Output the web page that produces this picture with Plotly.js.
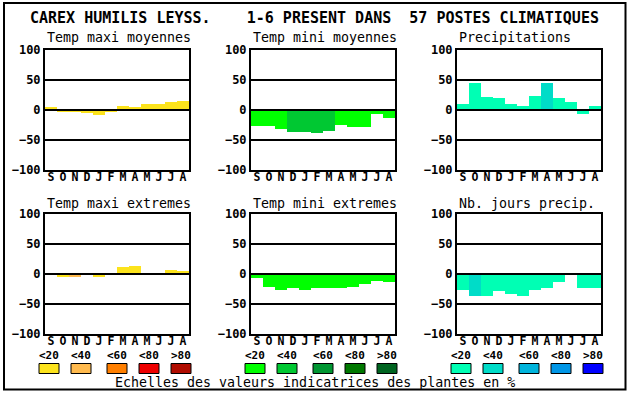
<!DOCTYPE html>
<html>
<head>
<meta charset="utf-8">
<script src="https://cdn.plot.ly/plotly-3.0.1.min.js"></script>
<style>html,body{margin:0;padding:0;background:#fff;}#chart{width:630px;height:394px;}</style>
</head>
<body>
<div id="chart"></div>
<script>
// ---- data ----
const months = ['S','O','N','D','J','F','M','A','M','J','J','A'];
const yTicks = [-100, -50, 0, 50, 100];
const classLabels = ['<20','<40','<60','<80','>80'];

const panelTitles = ['Temp maxi moyennes','Temp mini moyennes','Precipitations',
                     'Temp maxi extremes','Temp mini extremes','Nb. jours precip.'];

const tmaxMoy      = [5, -4, -4, -5, -8, -3, 7, 5, 10, 10, 13, 15];
const tmaxMoyClass = [0, 0, 0, 0, 0, 0, 0, 0, 0, 0, 0, 0];

const tminMoy      = [-26, -26, -32, -37, -37, -38, -35, -25, -28, -28, -7, -13];
const tminMoyClass = [0, 0, 0, 1, 1, 1, 1, 0, 0, 0, 0, 0];

const precip       = [10, 45, 22, 20, 10, 7, 23, 45, 20, 13, -7, 7];
const precipClass  = [0, 0, 0, 0, 0, 0, 0, 1, 0, 0, 0, 0];

const tmaxExt      = [2, -5, -5, -2, -5, 0, 12, 14, -2, 2, 7, 5];
const tmaxExtClass = [0, 0, 1, 0, 0, 0, 0, 0, 0, 0, 0, 0];

const tminExt      = [-6, -21, -26, -23, -26, -24, -24, -23, -21, -16, -11, -14];
const tminExtClass = [0, 0, 0, 0, 0, 0, 0, 0, 0, 0, 0, 0];

const nbJours      = [-26, -36, -36, -28, -33, -36, -26, -24, -14, 2, -23, -24];
const nbJoursClass = [0, 1, 0, 0, 0, 0, 0, 0, 0, 0, 0, 0];

const mainTitle = 'CAREX HUMILIS LEYSS.    1-6 PRESENT DANS  57 POSTES CLIMATIQUES';
const footer = 'Echelles des valeurs indicatrices des plantes en %';

// ---- styles ----
const yellowPal = ['#FCE31C','#FFBA4E','#FF7F00','#EE0000','#B00C00'];
const greenPal  = ['#00FF00','#00C832','#009632','#007800','#006420'];
const bluePal   = ['#00FFB4','#00DCC8','#00B4DC','#0096E6','#0000FF'];

const W = 630, H = 394;
const plotLefts = [45, 251, 457];
const rowTops = [50, 214];
const PW = 144, PH = 120;
const px = v => v / W;
const py = v => 1 - v / H;
const mono = '"DejaVu Sans Mono", "Liberation Mono", monospace';

const panels = [
  {v: tmaxMoy, c: tmaxMoyClass, pal: yellowPal},
  {v: tminMoy, c: tminMoyClass, pal: greenPal},
  {v: precip,  c: precipClass,  pal: bluePal},
  {v: tmaxExt, c: tmaxExtClass, pal: yellowPal},
  {v: tminExt, c: tminExtClass, pal: greenPal},
  {v: nbJours, c: nbJoursClass, pal: bluePal}
];

const traces = [];
const layout = {
  width: W, height: H, autosize: false,
  margin: {l: 0, r: 0, t: 0, b: 0, pad: 0},
  paper_bgcolor: '#fff', plot_bgcolor: '#fff',
  showlegend: false, bargap: 0,
  font: {family: mono, color: '#000'},
  annotations: [], shapes: []
};

panels.forEach((p, i) => {
  const col = i % 3, row = Math.floor(i / 3);
  const n = i + 1;
  const xa = n === 1 ? 'x' : 'x' + n;
  const ya = n === 1 ? 'y' : 'y' + n;
  traces.push({
    type: 'bar', x: months.map((m, k) => k), y: p.v,
    xaxis: xa, yaxis: ya,
    marker: {color: p.c.map(k => p.pal[k]), line: {width: 0}},
    hoverinfo: 'skip'
  });
  const l = plotLefts[col], t = rowTops[row];
  layout['xaxis' + (n === 1 ? '' : n)] = {
    domain: [px(l), px(l + PW)], anchor: ya, range: [-0.5, 11.5],
    tickmode: 'array', tickvals: months.map((m, k) => k), ticktext: months,
    showgrid: false, zeroline: false, showline: true, mirror: true,
    linecolor: '#000', linewidth: 2, ticks: '', fixedrange: true,
    ticklabelstandoff: -5,
    tickfont: {family: mono, size: 11.5, color: '#000', weight: 'bold'}
  };
  layout['yaxis' + (n === 1 ? '' : n)] = {
    domain: [py(t + PH), py(t)], anchor: xa, range: [-100, 100],
    tickmode: 'array', tickvals: yTicks,
    showgrid: true, gridcolor: '#000', gridwidth: 2,
    zeroline: false, showline: true, mirror: true,
    linecolor: '#000', linewidth: 2, ticks: '', fixedrange: true,
    tickfont: {family: mono, size: 12, color: '#000', weight: 'bold'}
  };
  layout.shapes.push({
    type: 'line', xref: xa + ' domain', yref: ya, x0: 0, x1: 1, y0: 0, y1: 0,
    line: {color: '#000', width: 2}, layer: 'above'
  });
  layout.annotations.push({
    xref: 'paper', yref: 'paper', x: px(l), y: py(row === 0 ? 38 : 203),
    xanchor: 'left', yanchor: 'middle', showarrow: false,
    text: panelTitles[i], font: {family: mono, size: 13.3, color: '#000'}
  });
});

// main title
layout.annotations.push({
  xref: 'paper', yref: 'paper', x: px(314), y: py(18), xanchor: 'center', yanchor: 'middle',
  showarrow: false, text: mainTitle,
  font: {family: mono, size: 15, color: '#000', weight: 'bold'}
});
// footer
layout.annotations.push({
  xref: 'paper', yref: 'paper', x: px(315), y: py(382), xanchor: 'center', yanchor: 'middle',
  showarrow: false, text: footer, font: {family: mono, size: 13.3, color: '#000'}
});

// colour scales
const boxOffsets = [0, 32, 68, 100, 132];
[yellowPal, greenPal, bluePal].forEach((pal, g) => {
  const start = plotLefts[g] - 6;
  pal.forEach((c, k) => {
    const x0 = start + boxOffsets[k];
    layout.shapes.push({
      type: 'rect', xref: 'paper', yref: 'paper',
      x0: px(x0), x1: px(x0 + 20), y0: py(373.5), y1: py(363.5),
      fillcolor: c, line: {color: '#000', width: 1}
    });
    layout.annotations.push({
      xref: 'paper', yref: 'paper', x: px(x0 + 10), y: py(355),
      xanchor: 'center', yanchor: 'middle', showarrow: false,
      text: classLabels[k], font: {family: mono, size: 11, color: '#000', weight: 'bold'}
    });
  });
});

// outer frame
layout.shapes.push({
  type: 'rect', xref: 'paper', yref: 'paper',
  x0: px(4), x1: px(625.5), y0: py(389.5), y1: py(3),
  line: {color: '#000', width: 2}, fillcolor: 'rgba(0,0,0,0)'
});

Plotly.newPlot('chart', traces, layout, {staticPlot: true, displayModeBar: false});
</script>
</body>
</html>
